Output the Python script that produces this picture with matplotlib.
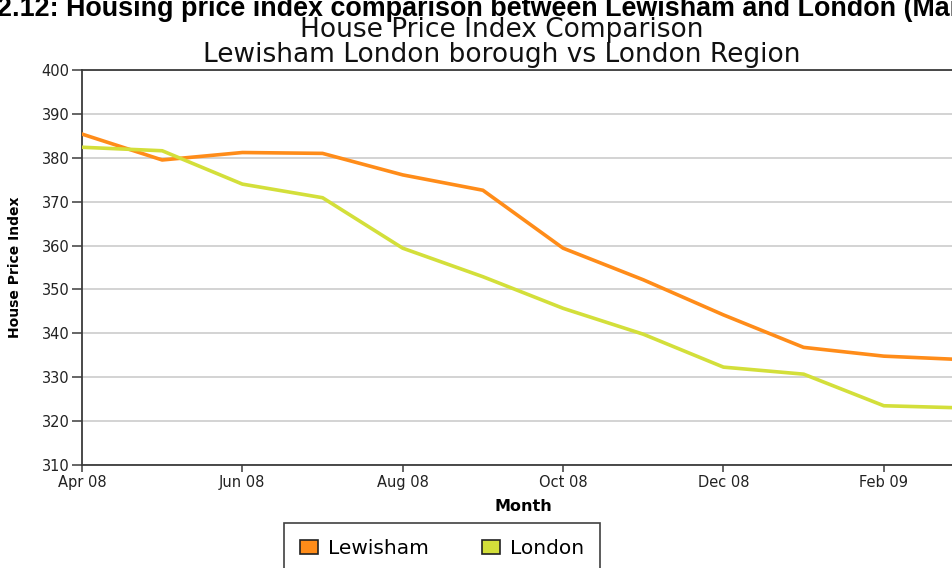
import matplotlib.pyplot as plt
from matplotlib.patches import Patch

# monthly house price index, Apr 08 - Mar 09
months = ['Apr 08', 'May 08', 'Jun 08', 'Jul 08', 'Aug 08', 'Sep 08',
          'Oct 08', 'Nov 08', 'Dec 08', 'Jan 09', 'Feb 09', 'Mar 09']
lewisham = [385.4, 379.5, 381.2, 381.0, 376.1, 372.6,
            359.4, 352.2, 344.2, 336.8, 334.8, 334.0]
london = [382.4, 381.6, 374.0, 370.9, 359.4, 352.9,
          345.7, 339.8, 332.3, 330.7, 323.5, 323.0]
y_ticks = [310, 320, 330, 340, 350, 360, 370, 380, 390, 400]

series_names = ['Lewisham', 'London']
series_colors = ['#ff8c19', '#d3df3a']

W, H = 953, 568
fig = plt.figure(figsize=(W / 100, H / 100), dpi=100)
fig.patch.set_facecolor('white')

# axes runs off the right edge, like the cropped original
ax = fig.add_axes([82 / W, (H - 465) / H, (964 - 82) / W, (465 - 70) / H])

x = list(range(len(months)))
ax.plot(x, lewisham, color=series_colors[0], lw=2.6, solid_joinstyle='round', zorder=3)
ax.plot(x, london, color=series_colors[1], lw=2.6, solid_joinstyle='round', zorder=3)

ax.set_xlim(0, len(months) - 1)
ax.set_ylim(310, 400)
ax.set_yticks(y_ticks)
ax.set_xticks(x[::2])
ax.set_xticklabels(months[::2])

ax.yaxis.grid(True, color='#c8c8c8', lw=1.1)
ax.set_axisbelow(True)
for side in ['left', 'bottom', 'top']:
    ax.spines[side].set_color('#3c3c3c')
    ax.spines[side].set_linewidth(1.3)
ax.spines['right'].set_visible(False)

ax.tick_params(axis='y', length=7, width=1.1, color='#3c3c3c', pad=2,
               labelsize=10.5, labelcolor='#222222')
ax.tick_params(axis='x', length=5, width=1.1, color='#3c3c3c', pad=2,
               labelsize=10.5, labelcolor='#222222')

ax.set_xlabel('Month', fontsize=11.5, fontweight='bold', labelpad=7)
ax.set_ylabel('House Price Index', fontsize=10, fontweight='bold', labelpad=14)

# titles (top one is cropped at the edges in the original)
fig.text(-3 / W, 1 - 16 / H,
         '2.12: Housing price index comparison between Lewisham and London (Mar',
         fontsize=19.4, fontweight='bold', family='Liberation Sans',
         ha='left', va='baseline')
fig.text(502 / W, 1 - 37 / H, 'House Price Index Comparison',
         fontsize=19, ha='center', va='baseline', color='#111111')
fig.text(502 / W, 1 - 62 / H, 'Lewisham London borough vs London Region',
         fontsize=19, ha='center', va='baseline', color='#111111')

handles = [Patch(facecolor=c, edgecolor='#222222', lw=1.2) for c in series_colors]
leg = fig.legend(handles, series_names, ncol=2, loc='upper left',
                 bbox_to_anchor=(284 / W, 1 - 523 / H), fontsize=14.5,
                 frameon=True, fancybox=False, handlelength=0.9, handleheight=0.7,
                 handletextpad=0.5, columnspacing=2.6, borderpad=0.8,
                 borderaxespad=0)
leg.get_frame().set_edgecolor('#111111')
leg.get_frame().set_linewidth(1.2)

fig.savefig('out.png', dpi=100)
